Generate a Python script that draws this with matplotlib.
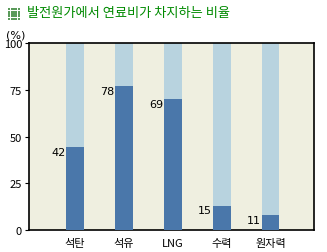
import matplotlib.pyplot as plt
import numpy as np

plt.rcParams['font.family'] = ['Noto Sans CJK KR', 'DejaVu Sans']

categories = ['석탄', '석유', 'LNG', '수력', '원자력']
labels = [42, 78, 69, 15, 11]
heights = [44.5, 77, 70, 13, 8]   # bar tops as drawn in the picture
totals = [100, 100, 100, 100, 100]

fig = plt.figure(figsize=(3.27, 2.53), dpi=100)
fig.patch.set_facecolor('white')
ax = fig.add_axes([29/327, 22/253, 285/327, 186.7/253])
ax.set_facecolor('#efefe0')

x = np.arange(len(categories))
ax.bar(x, totals, width=0.35, color='#b8d3df', zorder=2)
ax.bar(x, heights, width=0.35, color='#4a77aa', zorder=3)

for xi, h, lab in zip(x, heights, labels):
    ax.text(xi - 0.2, h - 2.5, str(lab), ha='right', va='center',
            fontsize=8, family='DejaVu Sans')

ax.set_xlim(-0.94, 4.88)
ax.set_ylim(0, 100)
ax.set_yticks([0, 25, 50, 75, 100])
ax.set_xticks(x)
ax.set_xticklabels(categories, fontsize=8)
ax.tick_params(axis='y', labelsize=8, length=3, pad=2)
ax.tick_params(axis='x', length=0, pad=6)
for s in ax.spines.values():
    s.set_linewidth(1.2)

fig.text(6/327, 1 - 35/253, '(%)', fontsize=8, va='center', family='DejaVu Sans')

# title icon: small dotted square
gx, gy = np.meshgrid(np.arange(5), np.arange(5))
icon = fig.add_axes([8/327, 1 - 21/253, 12/327, 12/253])
icon.scatter(gx.ravel(), gy.ravel(), s=1.2, marker='s', color='#5a9a5a', linewidths=0)
icon.set_xlim(-0.5, 4.5)
icon.set_ylim(-0.5, 4.5)
icon.axis('off')

fig.text(27/327, 1 - 14/253, '발전원가에서 연료비가 차지하는 비율', fontsize=9.5,
         color='#008a00', va='center')

plt.savefig('out.png', dpi=100)
